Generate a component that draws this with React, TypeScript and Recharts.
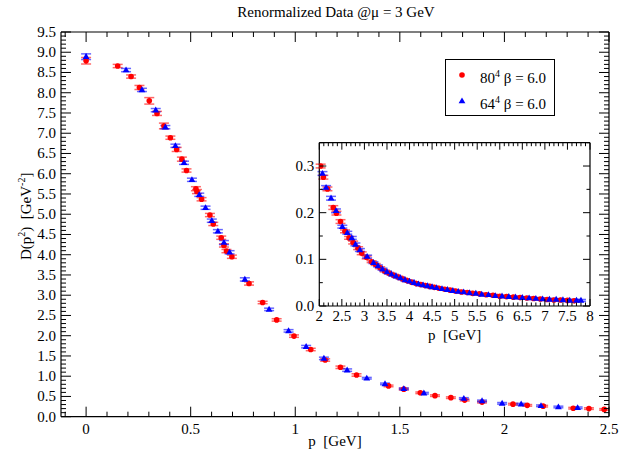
import React from 'react';
import { ScatterChart, Scatter, XAxis, YAxis, ErrorBar, Legend, Label } from 'recharts';

// main panel, 80^4 lattice (red circles)
const pRed = [0.0, 0.151, 0.215, 0.255, 0.302, 0.339, 0.372, 0.403, 0.433, 0.458, 0.48, 0.525, 0.53, 0.552, 0.592, 0.608, 0.646, 0.659, 0.671, 0.697, 0.779, 0.844, 0.911, 0.994, 1.074, 1.143, 1.216, 1.293, 1.446, 1.519, 1.598, 1.668, 1.744, 1.81, 1.893, 2.041, 2.109, 2.185, 2.329, 2.404, 2.477];
const dRed = [8.79, 8.66, 8.4, 8.13, 7.8, 7.49, 7.18, 6.89, 6.6, 6.36, 6.08, 5.63, 5.56, 5.37, 4.98, 4.76, 4.42, 4.23, 4.09, 3.95, 3.29, 2.82, 2.39, 1.99, 1.66, 1.4, 1.22, 1.03, 0.76, 0.68, 0.59, 0.52, 0.47, 0.41, 0.36, 0.31, 0.28, 0.26, 0.21, 0.2, 0.18];
const eRed = [0.08, 0.04, 0.04, 0.05, 0.08, 0.05, 0.07, 0.04, 0.05, 0.05, 0.04, 0.05, 0.05, 0.04, 0.04, 0.04, 0.04, 0.04, 0.04, 0.04, 0.04, 0.03, 0.03, 0.03, 0.03, 0.03, 0.03, 0.03, 0.02, 0.02, 0.02, 0.02, 0.02, 0.02, 0.02, 0.02, 0.02, 0.02, 0.02, 0.02, 0.02];

// main panel, 64^4 lattice (blue triangles)
const pBlue = [0.0, 0.191, 0.267, 0.333, 0.379, 0.427, 0.468, 0.506, 0.541, 0.571, 0.601, 0.63, 0.659, 0.686, 0.759, 0.875, 0.968, 1.052, 1.137, 1.248, 1.342, 1.429, 1.519, 1.615, 1.806, 1.893, 1.989, 2.08, 2.175, 2.258, 2.35];
const dBlue = [8.89, 8.56, 8.07, 7.57, 7.15, 6.69, 6.27, 5.85, 5.48, 5.16, 4.84, 4.58, 4.3, 4.06, 3.39, 2.65, 2.12, 1.73, 1.44, 1.15, 0.95, 0.81, 0.69, 0.58, 0.45, 0.39, 0.33, 0.31, 0.27, 0.24, 0.22];
const eBlue = [0.07, 0.04, 0.04, 0.04, 0.04, 0.04, 0.04, 0.04, 0.04, 0.04, 0.04, 0.04, 0.05, 0.04, 0.04, 0.03, 0.03, 0.03, 0.03, 0.03, 0.02, 0.02, 0.02, 0.02, 0.02, 0.02, 0.02, 0.02, 0.02, 0.02, 0.02];

// inset, high momenta
const pRedHi = [2.03, 2.09, 2.18, 2.31, 2.38, 2.47, 2.57, 2.66, 2.75, 2.86, 2.94, 3.05, 3.16, 3.25, 3.35, 3.45, 3.55, 3.65, 3.75, 3.85, 3.95, 4.05, 4.15, 4.25, 4.35, 4.45, 4.55, 4.65, 4.78, 4.9, 5.02, 5.15, 5.28, 5.4, 5.55, 5.7, 5.85, 6.0, 6.15, 6.3, 6.45, 6.6, 6.75, 6.9, 7.05, 7.2, 7.35, 7.5, 7.65];
const dRedHi = [0.3, 0.276, 0.251, 0.211, 0.199, 0.181, 0.16, 0.146, 0.136, 0.124, 0.113, 0.104, 0.095, 0.089, 0.082, 0.075, 0.07, 0.066, 0.062, 0.058, 0.054, 0.051, 0.048, 0.046, 0.044, 0.042, 0.04, 0.038, 0.036, 0.034, 0.032, 0.03, 0.029, 0.027, 0.026, 0.024, 0.023, 0.021, 0.02, 0.019, 0.018, 0.017, 0.016, 0.015, 0.014, 0.013, 0.013, 0.012, 0.011];
const eRedHi = [0.004, 0.004, 0.004, 0.004, 0.004, 0.004, 0.003, 0.003, 0.003, 0.003, 0.003, 0.003, 0.002, 0.002, 0.002, 0.002, 0.002, 0.002, 0.002, 0.002, 0.002, 0.002, 0.002, 0.002, 0.002, 0.002, 0.002, 0.002, 0.002, 0.002, 0.002, 0.002, 0.002, 0.002, 0.002, 0.002, 0.002, 0.002, 0.002, 0.002, 0.002, 0.002, 0.002, 0.002, 0.002, 0.002, 0.002, 0.002, 0.002];
const pBlueHi = [2.07, 2.15, 2.26, 2.37, 2.51, 2.62, 2.72, 2.8, 2.9, 3.06, 3.2, 3.3, 3.4, 3.5, 3.6, 3.7, 3.8, 3.9, 4.0, 4.1, 4.2, 4.3, 4.4, 4.5, 4.6, 4.72, 4.84, 4.96, 5.08, 5.2, 5.33, 5.47, 5.6, 5.75, 5.9, 6.05, 6.2, 6.35, 6.5, 6.65, 6.8, 6.95, 7.1, 7.25, 7.4, 7.55, 7.7, 7.8];
const dBlueHi = [0.284, 0.254, 0.231, 0.204, 0.17, 0.157, 0.146, 0.132, 0.12, 0.106, 0.093, 0.086, 0.079, 0.073, 0.068, 0.064, 0.06, 0.056, 0.053, 0.05, 0.047, 0.045, 0.043, 0.041, 0.039, 0.037, 0.035, 0.033, 0.031, 0.03, 0.028, 0.027, 0.025, 0.024, 0.022, 0.021, 0.02, 0.019, 0.018, 0.017, 0.016, 0.015, 0.014, 0.014, 0.013, 0.012, 0.012, 0.012];
const eBlueHi = [0.004, 0.004, 0.004, 0.004, 0.003, 0.003, 0.003, 0.003, 0.003, 0.003, 0.002, 0.002, 0.002, 0.002, 0.002, 0.002, 0.002, 0.002, 0.002, 0.002, 0.002, 0.002, 0.002, 0.002, 0.002, 0.002, 0.002, 0.002, 0.002, 0.002, 0.002, 0.002, 0.002, 0.002, 0.002, 0.002, 0.002, 0.002, 0.002, 0.002, 0.002, 0.002, 0.002, 0.002, 0.002, 0.002, 0.002, 0.002];

// labelled ticks
const mainXLabels = [0, 0.5, 1, 1.5, 2, 2.5];
const mainYLabels = [0, 0.5, 1, 1.5, 2, 2.5, 3, 3.5, 4, 4.5, 5, 5.5, 6, 6.5, 7, 7.5, 8, 8.5, 9, 9.5];
const insetXLabels = [2, 2.5, 3, 3.5, 4, 4.5, 5, 5.5, 6, 6.5, 7, 7.5, 8];
const insetYLabels = [0, 0.1, 0.2, 0.3];

const SERIF = '"Liberation Serif", "DejaVu Serif", serif';
const RED = '#ff0000';
const BLUE = '#0000ff';

const steps = (a: number, b: number, s: number) => {
  const out: number[] = [];
  for (let v = a; v <= b + 1e-9; v += s) out.push(Math.round(v * 1000) / 1000);
  return out;
};

const mainXTicks = steps(-0.1, 2.5, 0.1);
const mainYTicks = steps(0, 9.5, 0.1);
const insetXTicks = steps(2, 8, 0.1);
const insetYTicks = steps(0, 0.35, 0.05);

const zip = (p: number[], d: number[], e: number[]) => p.map((x, i) => ({ p: x, d: d[i], e: e[i] }));
const mainRed = zip(pRed, dRed, eRed);
const mainBlue = zip(pBlue, dBlue, eBlue);
const hiRed = zip(pRedHi, dRedHi, eRedHi);
const hiBlue = zip(pBlueHi, dBlueHi, eBlueHi);

type Side = 'bottom' | 'left' | 'top' | 'right';

// ticks drawn inward (xmgrace style), labels outside
const makeTick = (side: Side, majors: number[], big: number, small: number, fmt?: (v: number) => string, labelDy = 17) =>
  (props: any) => {
    const { x, y, payload } = props;
    const v = payload.value;
    const major = majors.some((m) => Math.abs(m - v) < 1e-6);
    const len = major ? big : small;
    let line;
    if (side === 'bottom') line = <line x1={x} y1={y} x2={x} y2={y - len} />;
    else if (side === 'top') line = <line x1={x} y1={y} x2={x} y2={y + len} />;
    else if (side === 'left') line = <line x1={x} y1={y} x2={x + len} y2={y} />;
    else line = <line x1={x} y1={y} x2={x - len} y2={y} />;
    let label = null;
    if (major && fmt && side === 'bottom')
      label = <text x={x} y={y + labelDy} textAnchor="middle" fontSize={15} fill="#000" fontFamily={SERIF}>{fmt(v)}</text>;
    if (major && fmt && side === 'left')
      label = <text x={x - 5} y={y + 5} textAnchor="end" fontSize={15} fill="#000" fontFamily={SERIF}>{fmt(v)}</text>;
    return (
      <g>
        <g stroke="#000" strokeWidth={1}>{line}</g>
        {label}
      </g>
    );
  };

const RedDot = (props: any) => <circle cx={props.cx} cy={props.cy} r={2.8} fill={RED} />;
const BlueTri = (props: any) => {
  const { cx, cy } = props;
  return <path d={`M${cx},${cy - 3.6}L${cx + 3.4},${cy + 2.3}L${cx - 3.4},${cy + 2.3}Z`} fill={BLUE} />;
};
const Empty = () => <g />;

const XTitle = (dy: number) => (props: any) => {
  const vb = props.viewBox;
  return (
    <text x={vb.x + vb.width / 2} y={vb.y + dy} textAnchor="middle" fontSize={15} fontFamily={SERIF} fill="#000" style={{ whiteSpace: 'pre' }}>
      p  [GeV]
    </text>
  );
};

const YTitle = (props: any) => {
  const vb = props.viewBox;
  const x = vb.x + 31;
  const y = vb.y + vb.height / 2 - 8;
  return (
    <text x={x} y={y} transform={`rotate(-90 ${x} ${y})`} textAnchor="middle" fontSize={15} fontFamily={SERIF} fill="#000" style={{ whiteSpace: 'pre' }}>
      D(p<tspan dy={-6} fontSize={10}>2</tspan>
      <tspan dy={6}>)  [GeV</tspan>
      <tspan dy={-6} fontSize={10}>-2</tspan>
      <tspan dy={6}>]</tspan>
    </text>
  );
};

const LegendBox = () => (
  <div style={{ position: 'relative', width: 110, height: 57, boxSizing: 'border-box', border: '1px solid #000', background: '#fff', fontFamily: SERIF, fontSize: 15, lineHeight: 1, color: '#000' }}>
    <svg width={12} height={60} style={{ position: 'absolute', left: 10, top: 0 }}>
      <circle cx={6} cy={15} r={2.8} fill={RED} />
      <path d="M6,37.4L9.4,43.3L2.6,43.3Z" fill={BLUE} />
    </svg>
    <span style={{ position: 'absolute', left: 34, top: 9, whiteSpace: 'nowrap' }}>
      80<sup style={{ fontSize: 10 }}>4</sup> β = 6.0
    </span>
    <span style={{ position: 'absolute', left: 34, top: 34.5, whiteSpace: 'nowrap' }}>
      64<sup style={{ fontSize: 10 }}>4</sup> β = 6.0
    </span>
  </div>
);

const fmt1 = (v: number) => v.toFixed(1);
const fmtPlain = (v: number) => String(v);

export default function App() {
  return (
    <div style={{ position: 'absolute', left: 0, top: 0, width: 621, height: 460, background: '#fff', fontFamily: SERIF }}>
      <div style={{ position: 'absolute', left: 236, top: 4.5, width: 200, textAlign: 'center', fontSize: 15, lineHeight: 1, whiteSpace: 'nowrap', color: '#000' }}>
        Renormalized Data @μ = 3 GeV
      </div>

      <ScatterChart width={621} height={460} margin={{ top: 32, right: 12, bottom: 0, left: 0 }}>
        <XAxis xAxisId="b" type="number" dataKey="p" domain={[-0.12, 2.5]} allowDataOverflow ticks={mainXTicks} interval={0}
          tickSize={0} tickMargin={0} tickLine={false} tick={makeTick('bottom', mainXLabels, 10, 5, fmtPlain, 17)}
          axisLine={{ stroke: '#000', strokeWidth: 1.2 }} height={43.3}>
          <Label content={XTitle(29.5)} />
        </XAxis>
        <XAxis xAxisId="t" orientation="top" mirror type="number" dataKey="p" domain={[-0.12, 2.5]} allowDataOverflow ticks={mainXTicks} interval={0}
          tickSize={0} tickMargin={0} tickLine={false} tick={makeTick('top', mainXLabels, 10, 5)}
          axisLine={{ stroke: '#000', strokeWidth: 1.2 }} height={1} />
        <YAxis yAxisId="l" type="number" dataKey="d" domain={[0, 9.5]} allowDataOverflow ticks={mainYTicks} interval={0}
          tickSize={0} tickMargin={0} tickLine={false} tick={makeTick('left', mainYLabels, 10, 5, fmt1)}
          axisLine={{ stroke: '#000', strokeWidth: 1.2 }} width={61}>
          <Label content={YTitle} />
        </YAxis>
        <YAxis yAxisId="r" orientation="right" mirror type="number" dataKey="d" domain={[0, 9.5]} allowDataOverflow ticks={mainYTicks} interval={0}
          tickSize={0} tickMargin={0} tickLine={false} tick={makeTick('right', mainYLabels, 10, 5)}
          axisLine={{ stroke: '#000', strokeWidth: 1.2 }} width={1} />
        <Legend content={LegendBox} layout="vertical" align="center" verticalAlign="middle"
          wrapperStyle={{ left: 445, top: 59, width: 110, height: 57 }} />
        <Scatter xAxisId="b" yAxisId="l" data={mainRed} shape={RedDot} isAnimationActive={false}>
          <ErrorBar dataKey="e" direction="y" width={5} stroke={RED} strokeOpacity={0.6} strokeWidth={1.5} isAnimationActive={false} />
        </Scatter>
        <Scatter xAxisId="b" yAxisId="l" data={mainBlue} shape={BlueTri} isAnimationActive={false}>
          <ErrorBar dataKey="e" direction="y" width={5} stroke={BLUE} strokeOpacity={0.6} strokeWidth={1.5} isAnimationActive={false} />
        </Scatter>
        <Scatter xAxisId="t" yAxisId="r" data={mainRed} shape={Empty} isAnimationActive={false} />
      </ScatterChart>

      <div style={{ position: 'absolute', left: 270, top: 130 }}>
        <ScatterChart width={340} height={215} margin={{ top: 12.7, right: 20, bottom: 0, left: 0 }}>
          <XAxis xAxisId="b" type="number" dataKey="p" domain={[2, 8]} allowDataOverflow ticks={insetXTicks} interval={0}
            tickSize={0} tickMargin={0} tickLine={false} tick={makeTick('bottom', insetXLabels, 7, 3.5, fmtPlain, 15)}
            axisLine={{ stroke: '#000', strokeWidth: 1.2 }} height={39}>
            <Label content={XTitle(34)} />
          </XAxis>
          <XAxis xAxisId="t" orientation="top" mirror type="number" dataKey="p" domain={[2, 8]} allowDataOverflow ticks={insetXTicks} interval={0}
            tickSize={0} tickMargin={0} tickLine={false} tick={makeTick('top', insetXLabels, 7, 3.5)}
            axisLine={{ stroke: '#000', strokeWidth: 1.2 }} height={1} />
          <YAxis yAxisId="l" type="number" dataKey="d" domain={[0, 0.35]} allowDataOverflow ticks={insetYTicks} interval={0}
            tickSize={0} tickMargin={0} tickLine={false} tick={makeTick('left', insetYLabels, 7, 3.5, fmt1)}
            axisLine={{ stroke: '#000', strokeWidth: 1.2 }} width={49.3} />
          <YAxis yAxisId="r" orientation="right" mirror type="number" dataKey="d" domain={[0, 0.35]} allowDataOverflow ticks={insetYTicks} interval={0}
            tickSize={0} tickMargin={0} tickLine={false} tick={makeTick('right', insetYLabels, 7, 3.5)}
            axisLine={{ stroke: '#000', strokeWidth: 1.2 }} width={1} />
          <Scatter xAxisId="b" yAxisId="l" data={hiRed} shape={RedDot} isAnimationActive={false}>
            <ErrorBar dataKey="e" direction="y" width={5} stroke={RED} strokeOpacity={0.6} strokeWidth={1.5} isAnimationActive={false} />
          </Scatter>
          <Scatter xAxisId="b" yAxisId="l" data={hiBlue} shape={BlueTri} isAnimationActive={false}>
            <ErrorBar dataKey="e" direction="y" width={5} stroke={BLUE} strokeOpacity={0.6} strokeWidth={1.5} isAnimationActive={false} />
          </Scatter>
          <Scatter xAxisId="t" yAxisId="r" data={hiRed} shape={Empty} isAnimationActive={false} />
        </ScatterChart>
      </div>
    </div>
  );
}
